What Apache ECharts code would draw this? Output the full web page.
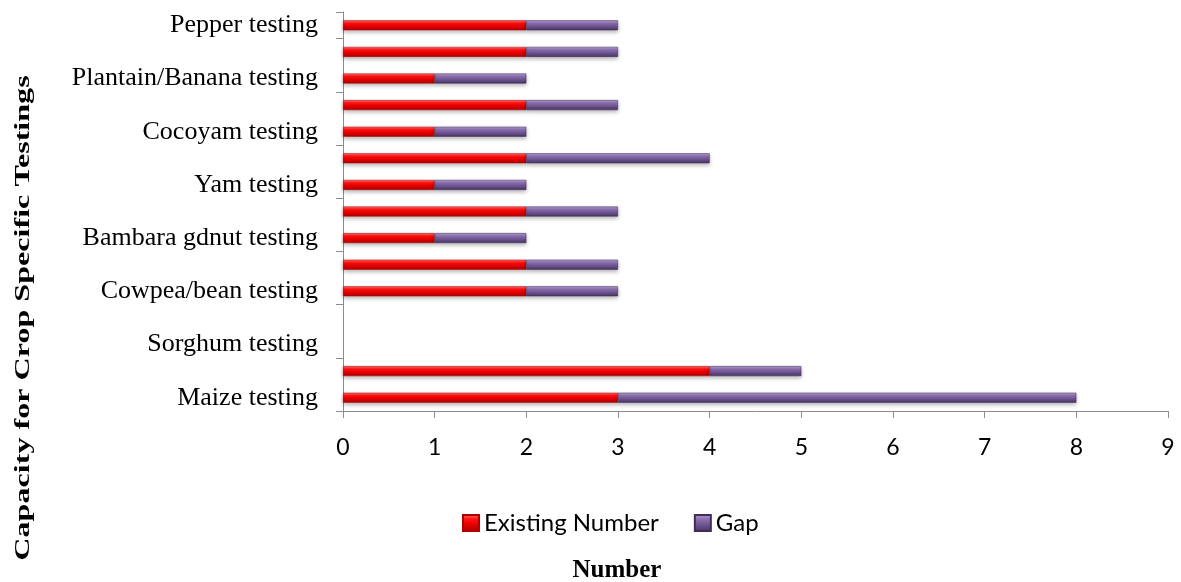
<!DOCTYPE html>
<html><head><meta charset="utf-8">
<script src="https://cdn.jsdelivr.net/npm/echarts@6/dist/echarts.min.js"></script>
<style>html,body{margin:0;padding:0;background:#fff}#c{width:1181px;height:582px}</style>
</head><body><div id="c"></div>
<script>
const categories = ["Maize testing","Rice testing","Sorghum testing","Millet testing","Cowpea/bean testing","Groundnut testing","Bambara gdnut testing","Soybean testing","Yam testing","Cassava testing","Cocoyam testing","Sweet potato testing","Plantain/Banana testing","Tomato testing","Pepper testing"];
const existing = [3,4,0,0,2,2,1,2,1,2,1,2,1,2,2];
const gap =      [5,1,0,0,1,1,1,1,1,2,1,1,1,1,1];
const xTicks = [0,1,2,3,4,5,6,7,8,9];
const seriesNames = ['Existing Number','Gap'];
const xTitle = 'Number';
const yTitle = 'Capacity for Crop Specific Testings';

function grad(c0,c1,c2,c3){
  return new echarts.graphic.LinearGradient(0,0,0,1,[
    {offset:0,color:c0},{offset:0.3,color:c1},{offset:0.6,color:c2},{offset:1,color:c3}]);
}
const redFill = grad('#ff7070','#ff1010','#e60000','#a80000');
const purFill = grad('#b39cd2','#8a6fae','#6f5592','#46335f');
const nz = v => v === 0 ? null : v;

const chart = echarts.init(document.getElementById('c'));
chart.setOption({
  animation:false,
  grid:{left:343,right:13,top:12,bottom:171,containLabel:false},
  legend:{
    data:seriesNames,
    left:457, top:506, itemWidth:16, itemHeight:16, itemGap:35,
    textStyle:{fontFamily:'Lato, "Open Sans", sans-serif',fontSize:24,color:'#000',lineHeight:16},
    icon:'rect'
  },
  graphic:[
    {type:'text', x:617, y:571, silent:true,
     style:{text:xTitle, align:'center', verticalAlign:'middle',
       fontFamily:'"Liberation Serif", serif', fontWeight:'bold', fontSize:25, fill:'#000'}},
    {type:'text', x:23, y:318, rotation:Math.PI/2, scaleX:1.46, silent:true,
     style:{text:yTitle, align:'center', verticalAlign:'middle',
       fontFamily:'"Liberation Serif", serif', fontWeight:'bold', fontSize:22, fill:'#000'}}
  ],
  xAxis:{
    type:'value', min:0, max:9, interval:1,
    axisLine:{show:true,lineStyle:{color:'#8c8c8c',width:1}},
    axisTick:{show:true,length:7,lineStyle:{color:'#8c8c8c'}},
    splitLine:{show:false},
    axisLabel:{fontFamily:'Lato, "Open Sans", sans-serif',fontSize:23,color:'#000',margin:25,
      formatter:v=>xTicks.includes(v)?String(v):''}
  },
  yAxis:{
    type:'category', data:categories,
    axisLine:{show:true,lineStyle:{color:'#8c8c8c',width:1}},
    axisTick:{show:true,length:7,inside:false,lineStyle:{color:'#8c8c8c'}},
    axisLabel:{interval:1,fontFamily:'"Liberation Serif", serif',fontSize:26,color:'#000',margin:25}
  },
  series:[
    {name:seriesNames[0],type:'bar',stack:'t',data:existing.map(nz),barWidth:10,
     itemStyle:{color:redFill,borderColor:'#b00000',borderWidth:0.5,
       shadowColor:'rgba(0,0,0,0.3)',shadowBlur:4,shadowOffsetY:2},
     emphasis:{disabled:true}},
    {name:seriesNames[1],type:'bar',stack:'t',data:gap.map(nz),barWidth:10,
     itemStyle:{color:purFill,borderColor:'#3f2d58',borderWidth:0.5,
       shadowColor:'rgba(0,0,0,0.3)',shadowBlur:4,shadowOffsetY:2},
     emphasis:{disabled:true}}
  ]
});
</script></body></html>
